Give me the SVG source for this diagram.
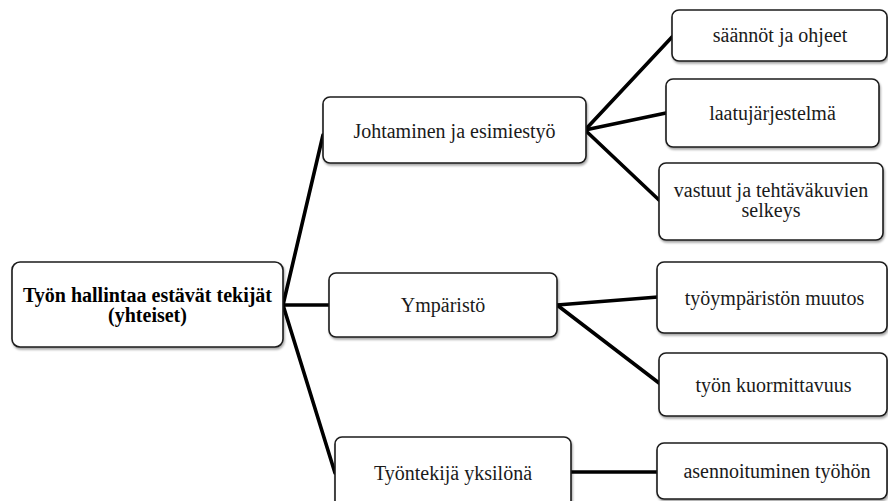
<svg xmlns="http://www.w3.org/2000/svg" width="888" height="501" viewBox="0 0 888 501">
<defs>
<filter id="sh" x="-10%" y="-10%" width="130%" height="140%">
<feDropShadow dx="1" dy="2" stdDeviation="1.2" flood-color="#000" flood-opacity="0.35"/>
</filter>
</defs>
<style>
.box{fill:#fff;stroke:#1a1a1a;stroke-width:1.6;filter:url(#sh)}
.t{font-family:"Liberation Serif","Times New Roman",serif;font-size:20px;fill:#1a1a1a;text-anchor:middle}
.b{font-weight:bold;fill:#000}
.c{stroke:#000;stroke-width:3.6;fill:none;stroke-linecap:round}
</style>
<rect width="888" height="501" fill="#fff"/>
<g id="connectors">
<line class="c" x1="283" y1="305" x2="323" y2="135"/>
<line class="c" x1="283" y1="305" x2="329" y2="305"/>
<line class="c" x1="283" y1="305" x2="335" y2="473"/>
<line class="c" x1="585" y1="130" x2="672" y2="37"/>
<line class="c" x1="585" y1="130" x2="666" y2="113"/>
<line class="c" x1="585" y1="130" x2="659" y2="200"/>
<line class="c" x1="557" y1="305" x2="658" y2="297"/>
<line class="c" x1="557" y1="305" x2="659" y2="383"/>
<line class="c" x1="571" y1="472" x2="657" y2="472"/>
</g>
<g id="root">
<rect class="box" x="12" y="262" width="271" height="85" rx="8"/>
<text class="t b" x="147.5" y="302">Työn hallintaa estävät tekijät</text>
<text class="t b" x="147.5" y="322">(yhteiset)</text>
</g>
<g id="johtaminen">
<rect class="box" x="323" y="97" width="263" height="66" rx="7"/>
<text class="t" x="454.5" y="138">Johtaminen ja esimiestyö</text>
</g>
<g id="ymparisto">
<rect class="box" x="329" y="273" width="228" height="64" rx="7"/>
<text class="t" x="443" y="312">Ympäristö</text>
</g>
<g id="tyontekija">
<rect class="box" x="335" y="437" width="236" height="80" rx="7"/>
<text class="t" x="453" y="480">Työntekijä yksilönä</text>
</g>
<g id="saannot">
<rect class="box" x="672" y="10" width="215" height="51" rx="7"/>
<text class="t" x="780" y="42">säännöt ja ohjeet</text>
</g>
<g id="laatu">
<rect class="box" x="666" y="79" width="213" height="68" rx="7"/>
<text class="t" x="772.5" y="120">laatujärjestelmä</text>
</g>
<g id="vastuut">
<rect class="box" x="659" y="163" width="224" height="77" rx="7"/>
<text class="t" x="771" y="197">vastuut ja tehtäväkuvien</text>
<text class="t" x="771" y="217">selkeys</text>
</g>
<g id="tyoymparisto">
<rect class="box" x="657" y="262" width="230" height="71" rx="7"/>
<text class="t" x="774.5" y="305">työympäristön muutos</text>
</g>
<g id="kuormittavuus">
<rect class="box" x="659" y="353" width="228" height="63" rx="7"/>
<text class="t" x="773.5" y="392">työn kuormittavuus</text>
</g>
<g id="asennoituminen">
<rect class="box" x="657" y="443" width="230" height="56" rx="7"/>
<text class="t" x="777" y="478">asennoituminen työhön</text>
</g>
</svg>
